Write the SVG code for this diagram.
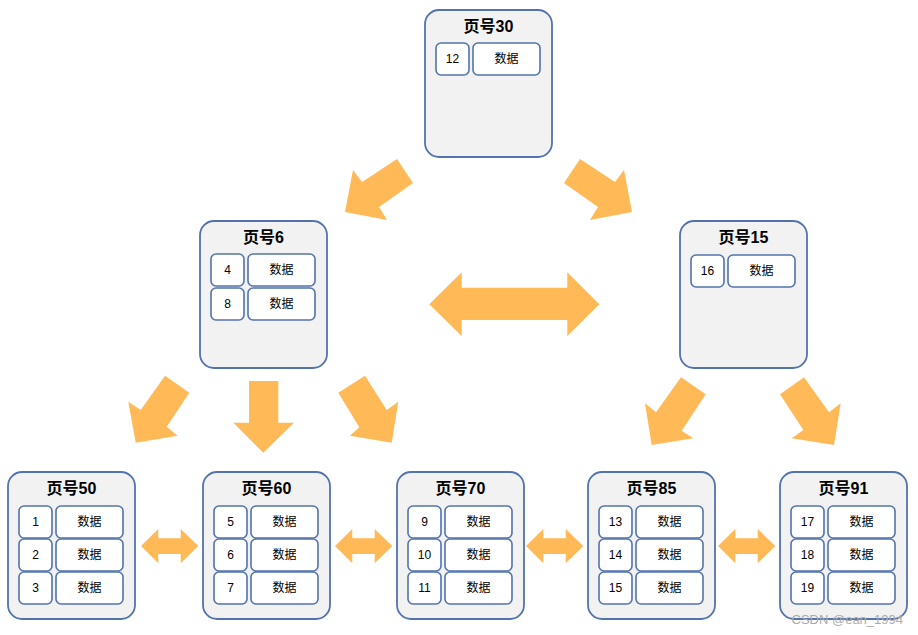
<svg xmlns="http://www.w3.org/2000/svg" width="918" height="635" viewBox="0 0 918 635">
<defs>
<style>
.node{fill:#F2F2F2;stroke:#5273AD;stroke-width:1.8}
.cell{fill:#FFFFFF;stroke:#5273AD;stroke-width:1.6}
.title{font-family:"Liberation Sans","Noto Sans CJK SC",sans-serif;font-size:16px;font-weight:bold;fill:#000;text-anchor:middle}
.txt{font-family:"Liberation Sans","Noto Sans CJK SC",sans-serif;font-size:12px;fill:#000;text-anchor:middle}
.arr{fill:#FFB957}
.wm{font-family:"Liberation Sans","Noto Sans CJK SC",sans-serif;font-size:13px;fill:#ABABAB;text-anchor:end}
</style>
<g id="dbl"><polygon class="arr" points="0,17 17.3,0 17.3,9.3 39.7,9.3 39.7,0 57.3,17 39.7,34.3 39.7,25 17.3,25 17.3,34.3"/></g>
</defs>
<rect width="918" height="635" fill="#FFFFFF"/>
<g id="connectors">
<polygon class="arr" points="397,159 413,183 379,207 387,220 345,212 353,170 362,182"/>
<polygon class="arr" points="580,159 564,183 598,207 590,220 632,212 624,170 615,182"/>
<polygon class="arr" points="429.3,304.3 461.7,272.3 461.7,287.7 567.3,287.7 567.3,272.3 599.3,304.3 567.3,336 567.3,320 461.7,320 461.7,336"/>
<polygon class="arr" points="165,375.7 189.3,392.7 166.7,426.7 177.7,435.7 135.7,442.7 128.3,401.7 140.7,410"/>
<polygon class="arr" points="249,381 278.3,381 278.3,422.7 294,422.7 263.3,452.7 233.3,422.7 249,422.7"/>
<polygon class="arr" points="365,375.7 338.3,392.7 359.3,427.3 350,435.7 391.7,442.7 398.3,401.7 386.7,410"/>
<polygon class="arr" points="681,377.3 705.7,394.3 681.7,430.7 693.3,438.3 651.7,445 645,403.3 656,412.3"/>
<polygon class="arr" points="804,377.3 780,394.3 803.3,430 791.7,438.3 834,445 840.7,403.3 829,412.3"/>
<use href="#dbl" x="141" y="529"/>
<use href="#dbl" x="335" y="529"/>
<use href="#dbl" x="526" y="529"/>
<use href="#dbl" x="718" y="529"/>
</g>
<g id="page30">
<rect class="node" x="425" y="10" width="127" height="147" rx="14"/>
<text class="title" x="488.5" y="32">页号30</text>
<rect class="cell" x="436" y="43" width="33" height="32" rx="5"/><text class="txt" x="452.5" y="63">12</text>
<rect class="cell" x="473" y="43" width="67" height="32" rx="5"/><text class="txt" x="506.5" y="63">数据</text>
</g>
<g id="page6">
<rect class="node" x="200" y="221" width="127" height="147" rx="14"/>
<text class="title" x="263.5" y="243">页号6</text>
<rect class="cell" x="211" y="254" width="33" height="32" rx="5"/><text class="txt" x="227.5" y="274">4</text>
<rect class="cell" x="248" y="254" width="67" height="32" rx="5"/><text class="txt" x="281.5" y="274">数据</text>
<rect class="cell" x="211" y="288" width="33" height="32" rx="5"/><text class="txt" x="227.5" y="308">8</text>
<rect class="cell" x="248" y="288" width="67" height="32" rx="5"/><text class="txt" x="281.5" y="308">数据</text>
</g>
<g id="page15">
<rect class="node" x="680" y="221" width="127" height="147" rx="14"/>
<text class="title" x="743.5" y="243">页号15</text>
<rect class="cell" x="691" y="255" width="33" height="32" rx="5"/><text class="txt" x="707.5" y="275">16</text>
<rect class="cell" x="728" y="255" width="67" height="32" rx="5"/><text class="txt" x="761.5" y="275">数据</text>
</g>
<g id="page50">
<rect class="node" x="8" y="472" width="127" height="147" rx="14"/>
<text class="title" x="71.5" y="494">页号50</text>
<rect class="cell" x="19" y="506" width="33" height="32" rx="5"/><text class="txt" x="35.5" y="526">1</text>
<rect class="cell" x="56" y="506" width="67" height="32" rx="5"/><text class="txt" x="89.5" y="526">数据</text>
<rect class="cell" x="19" y="539" width="33" height="32" rx="5"/><text class="txt" x="35.5" y="559">2</text>
<rect class="cell" x="56" y="539" width="67" height="32" rx="5"/><text class="txt" x="89.5" y="559">数据</text>
<rect class="cell" x="19" y="572" width="33" height="32" rx="5"/><text class="txt" x="35.5" y="592">3</text>
<rect class="cell" x="56" y="572" width="67" height="32" rx="5"/><text class="txt" x="89.5" y="592">数据</text>
</g>
<g id="page60">
<rect class="node" x="203" y="472" width="127" height="147" rx="14"/>
<text class="title" x="266.5" y="494">页号60</text>
<rect class="cell" x="214" y="506" width="33" height="32" rx="5"/><text class="txt" x="230.5" y="526">5</text>
<rect class="cell" x="251" y="506" width="67" height="32" rx="5"/><text class="txt" x="284.5" y="526">数据</text>
<rect class="cell" x="214" y="539" width="33" height="32" rx="5"/><text class="txt" x="230.5" y="559">6</text>
<rect class="cell" x="251" y="539" width="67" height="32" rx="5"/><text class="txt" x="284.5" y="559">数据</text>
<rect class="cell" x="214" y="572" width="33" height="32" rx="5"/><text class="txt" x="230.5" y="592">7</text>
<rect class="cell" x="251" y="572" width="67" height="32" rx="5"/><text class="txt" x="284.5" y="592">数据</text>
</g>
<g id="page70">
<rect class="node" x="397" y="472" width="127" height="147" rx="14"/>
<text class="title" x="460.5" y="494">页号70</text>
<rect class="cell" x="408" y="506" width="33" height="32" rx="5"/><text class="txt" x="424.5" y="526">9</text>
<rect class="cell" x="445" y="506" width="67" height="32" rx="5"/><text class="txt" x="478.5" y="526">数据</text>
<rect class="cell" x="408" y="539" width="33" height="32" rx="5"/><text class="txt" x="424.5" y="559">10</text>
<rect class="cell" x="445" y="539" width="67" height="32" rx="5"/><text class="txt" x="478.5" y="559">数据</text>
<rect class="cell" x="408" y="572" width="33" height="32" rx="5"/><text class="txt" x="424.5" y="592">11</text>
<rect class="cell" x="445" y="572" width="67" height="32" rx="5"/><text class="txt" x="478.5" y="592">数据</text>
</g>
<g id="page85">
<rect class="node" x="588" y="472" width="127" height="147" rx="14"/>
<text class="title" x="651.5" y="494">页号85</text>
<rect class="cell" x="599" y="506" width="33" height="32" rx="5"/><text class="txt" x="615.5" y="526">13</text>
<rect class="cell" x="636" y="506" width="67" height="32" rx="5"/><text class="txt" x="669.5" y="526">数据</text>
<rect class="cell" x="599" y="539" width="33" height="32" rx="5"/><text class="txt" x="615.5" y="559">14</text>
<rect class="cell" x="636" y="539" width="67" height="32" rx="5"/><text class="txt" x="669.5" y="559">数据</text>
<rect class="cell" x="599" y="572" width="33" height="32" rx="5"/><text class="txt" x="615.5" y="592">15</text>
<rect class="cell" x="636" y="572" width="67" height="32" rx="5"/><text class="txt" x="669.5" y="592">数据</text>
</g>
<g id="page91">
<rect class="node" x="780" y="472" width="127" height="147" rx="14"/>
<text class="title" x="843.5" y="494">页号91</text>
<rect class="cell" x="791" y="506" width="33" height="32" rx="5"/><text class="txt" x="807.5" y="526">17</text>
<rect class="cell" x="828" y="506" width="67" height="32" rx="5"/><text class="txt" x="861.5" y="526">数据</text>
<rect class="cell" x="791" y="539" width="33" height="32" rx="5"/><text class="txt" x="807.5" y="559">18</text>
<rect class="cell" x="828" y="539" width="67" height="32" rx="5"/><text class="txt" x="861.5" y="559">数据</text>
<rect class="cell" x="791" y="572" width="33" height="32" rx="5"/><text class="txt" x="807.5" y="592">19</text>
<rect class="cell" x="828" y="572" width="67" height="32" rx="5"/><text class="txt" x="861.5" y="592">数据</text>
</g>
<text class="wm" x="903" y="624">CSDN @ean_1994</text>
</svg>
